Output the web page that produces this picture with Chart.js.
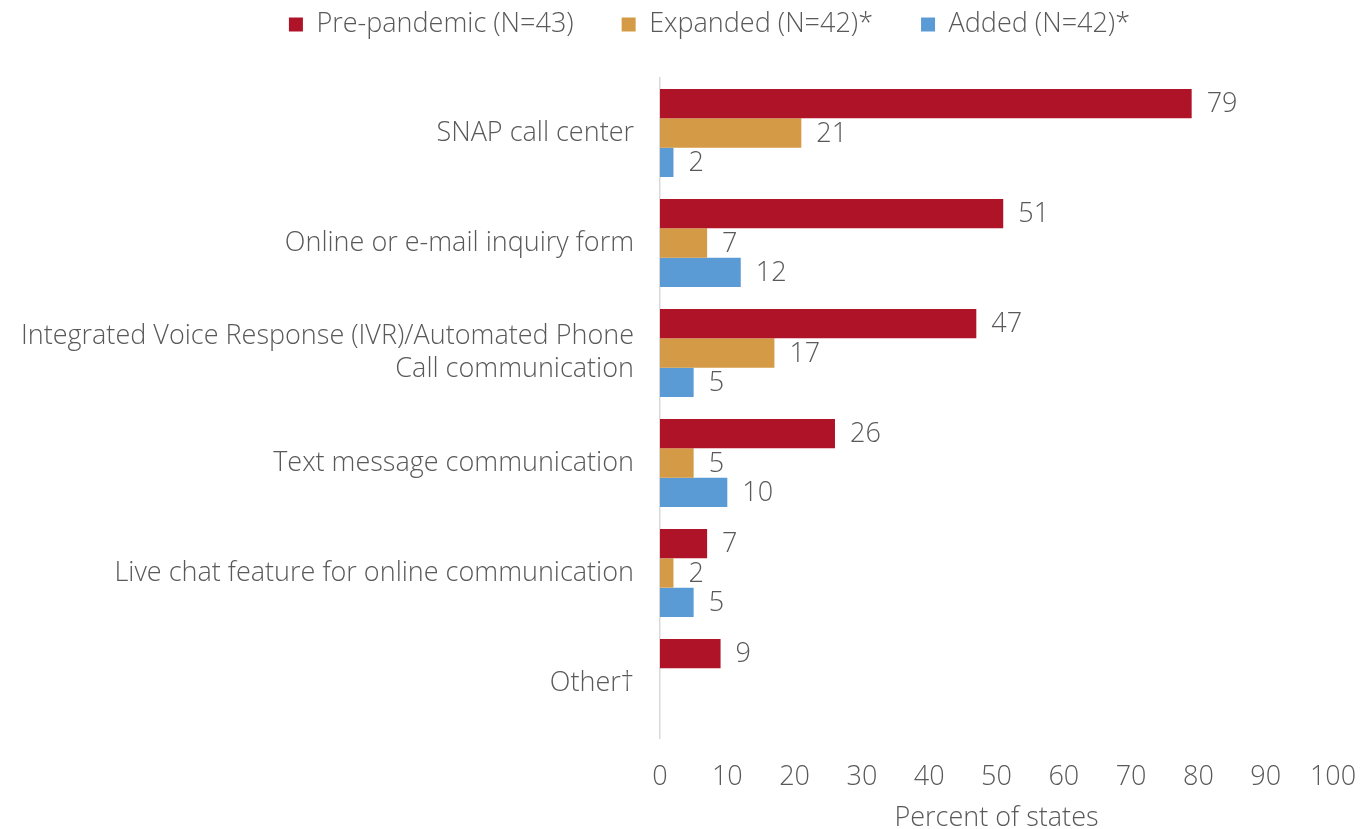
<!DOCTYPE html>
<html>
<head>
<meta charset="utf-8">
<script src="https://cdn.jsdelivr.net/npm/chart.js@4.4.0/dist/chart.umd.min.js"></script>
<style>
	html, body { margin:0; padding:0; background:#fff; }
	#contenedor { width:1369px; height:829px; }
</style>
</head>
<body>
<div id="contenedor"><canvas id="grafCanales"></canvas></div>
<script>
//	Canales de comunicacion con los participantes de SNAP, porcentaje de estados

var Categorias=['SNAP call center','Online or e-mail inquiry form',
	['Integrated Voice Response (IVR)/Automated Phone','Call communication'],
	'Text message communication','Live chat feature for online communication','Other\u2020'];

var PrePandemia=[79,51,47,26,7,9];
var Ampliado=[21,7,17,5,2,null];
var Anadido=[2,12,5,10,5,null];

var Series=['Pre-pandemic (N=43)','Expanded (N=42)*','Added (N=42)*'];
var Colores=['#AE1328','#D49A45','#5B9BD5'];
var TicksX=[0,10,20,30,40,50,60,70,80,90,100];

var Fuente='"Open Sans", sans-serif';
var Peso='300';
var Gris='#595959';
var TamLetra=27;

//	Escribe el valor al final de cada barra
var EtiquetasValor={
	id:'etiquetasValor',
	afterDatasetsDraw:function(chart)
	{
		var ctx=chart.ctx;
		ctx.save();
		ctx.font=Peso+' '+TamLetra+'px '+Fuente;
		ctx.fillStyle=Gris;
		ctx.textAlign='left';
		ctx.textBaseline='middle';
		chart.data.datasets.forEach(function(ds,i){
			var meta=chart.getDatasetMeta(i);
			meta.data.forEach(function(barra,j){
				var v=ds.data[j];
				if (v===null || v===undefined) return;
				ctx.fillText(v, barra.x+15, barra.y+1);
			});
		});
		ctx.restore();
	}
};

//	Leyenda: mas aire por debajo y algo desplazada a la derecha
var AjusteLeyenda={
	id:'ajusteLeyenda',
	beforeInit:function(chart)
	{
		var leyenda=chart.legend;
		if (!leyenda) return;
		var fitOriginal=leyenda.fit;
		leyenda.fit=function(){
			fitOriginal.call(this);
			this.height=115;
		};
		var drawOriginal=leyenda.draw;
		leyenda.draw=function(){
			var c=this.ctx;
			c.save();
			c.translate(25,0);
			drawOriginal.apply(this,arguments);
			c.restore();
		};
	}
};

function PresentaGrafico()
{
	var Datasets=[PrePandemia,Ampliado,Anadido].map(function(d,i){
		return {label:Series[i], data:d, backgroundColor:Colores[i], borderWidth:0,
			categoryPercentage:0.8, barPercentage:1.0};
	});

	var letra={family:Fuente, size:TamLetra, weight:Peso};

	var ctx=document.getElementById('grafCanales').getContext('2d');
	new Chart(ctx,{
		type:'bar',
		data:{labels:Categorias, datasets:Datasets},
		plugins:[EtiquetasValor,AjusteLeyenda],
		options:{
			indexAxis:'y',
			responsive:true,
			maintainAspectRatio:false,
			animation:false,
			layout:{padding:{left:0,right:0,top:-37,bottom:1}},
			plugins:{
				tooltip:{enabled:false},
				legend:{
					position:'top',
					labels:{
						color:Gris,
						font:letra,
						boxWidth:14, boxHeight:14,
						padding:48
					}
				}
			},
			scales:{
				x:{
					min:0, max:100,
					grid:{display:false, drawTicks:false},
					border:{display:false},
					afterBuildTicks:function(s){ s.ticks=TicksX.map(function(v){return {value:v};}); },
					ticks:{color:Gris, font:letra, padding:23, maxRotation:0},
					title:{display:true, text:'Percent of states', color:Gris,
						font:{family:Fuente,size:TamLetra,weight:Peso,lineHeight:1}, padding:{top:12,bottom:-4}},
					afterFit:function(s){ s.height=90; s.paddingRight=36; }
				},
				y:{
					grid:{display:false, drawTicks:false},
					border:{display:true, color:'#D9D9D9', width:1.5},
					ticks:{color:Gris, font:{family:Fuente,size:TamLetra,weight:Peso,lineHeight:1.22}, padding:26, autoSkip:false},
					afterFit:function(s){ s.width=660; }
				}
			}
		}
	});
}

PresentaGrafico();
</script>
</body>
</html>
